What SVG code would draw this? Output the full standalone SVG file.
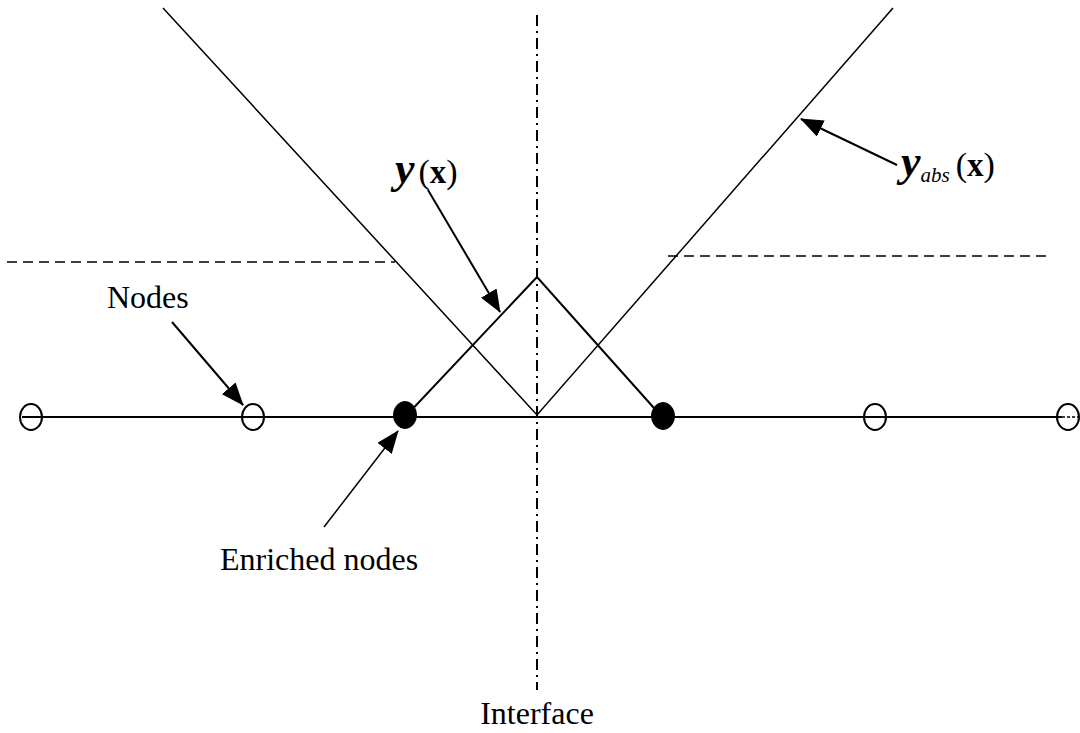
<svg xmlns="http://www.w3.org/2000/svg" width="1080" height="733" viewBox="0 0 1080 733">
<style>
.ln{stroke:#000;fill:none}
.t{font-family:"Liberation Serif","Times New Roman",serif;font-size:32px;fill:#000}
.psi{font-family:"Liberation Serif",serif;font-style:italic;font-weight:bold;font-size:44px;fill:#000}
.bx{font-family:"Liberation Serif",serif;font-weight:bold;font-size:33px;fill:#000}
.pa{font-family:"Liberation Serif",serif;font-size:34px;fill:#000}
.sub{font-family:"Liberation Serif",serif;font-style:italic;font-size:21px;fill:#000}
.open{fill:none;stroke:#000;stroke-width:2}
.fill{fill:#000;stroke:#000;stroke-width:1}
</style>
<defs>
<marker id="ah" markerWidth="24" markerHeight="18" refX="22" refY="9" orient="auto" markerUnits="userSpaceOnUse">
<path d="M0,0 L23,9 L0,18 Z" fill="#000"/>
</marker>
</defs>
<g id="connectors">
<line class="ln" x1="7" y1="262" x2="395" y2="262" stroke-width="1.5" stroke-dasharray="10 6"/>
<line class="ln" x1="668" y1="256" x2="1052" y2="256" stroke-width="1.5" stroke-dasharray="10 6"/>
<line class="ln" x1="537" y1="15" x2="537" y2="690" stroke-width="2" stroke-dasharray="11 5 2 5"/>
<polyline id="psi-abs" class="ln" points="163,8 537,415 893,8" stroke-width="1.5"/>
<line class="ln" x1="22" y1="417" x2="1062" y2="417" stroke-width="2"/>
<line class="ln" x1="1062" y1="417" x2="1078" y2="417" stroke-width="1.5" stroke-dasharray="3 2"/>
<polyline id="psi" class="ln" points="405,417 537,277 662,417" stroke-width="2"/>
<line class="ln" x1="172" y1="322" x2="243" y2="405" stroke-width="2" marker-end="url(#ah)"/>
<line class="ln" x1="324" y1="527" x2="398" y2="431" stroke-width="1.5" marker-end="url(#ah)"/>
<line class="ln" x1="428" y1="190" x2="500" y2="312" stroke-width="2" marker-end="url(#ah)"/>
<line class="ln" x1="897" y1="165" x2="801" y2="119" stroke-width="2" marker-end="url(#ah)"/>
</g>
<g id="node1"><ellipse class="open" cx="31" cy="417" rx="11" ry="13"/></g>
<g id="node2"><ellipse class="open" cx="253" cy="417" rx="11" ry="13"/></g>
<g id="enriched1"><ellipse class="fill" cx="405" cy="415" rx="11.5" ry="13.5"/></g>
<g id="enriched2"><ellipse class="fill" cx="663" cy="416" rx="11.5" ry="13.5"/></g>
<g id="node3"><ellipse class="open" cx="875" cy="417" rx="11" ry="13"/></g>
<g id="node4"><ellipse class="open" cx="1068" cy="417" rx="11" ry="13"/></g>
<g id="labels">
<text class="t" x="107" y="308">Nodes</text>
<text class="t" x="220" y="570">Enriched nodes</text>
<text class="t" x="537" y="724" text-anchor="middle">Interface</text>
<text x="395" y="183"><tspan class="psi">y</tspan><tspan class="pa" dx="4">(</tspan><tspan class="bx">x</tspan><tspan class="pa">)</tspan></text>
<text x="901" y="176"><tspan class="psi">y</tspan><tspan class="sub" dy="6">abs</tspan><tspan class="pa" dy="-6" dx="6">(</tspan><tspan class="bx">x</tspan><tspan class="pa">)</tspan></text>
</g>
</svg>
